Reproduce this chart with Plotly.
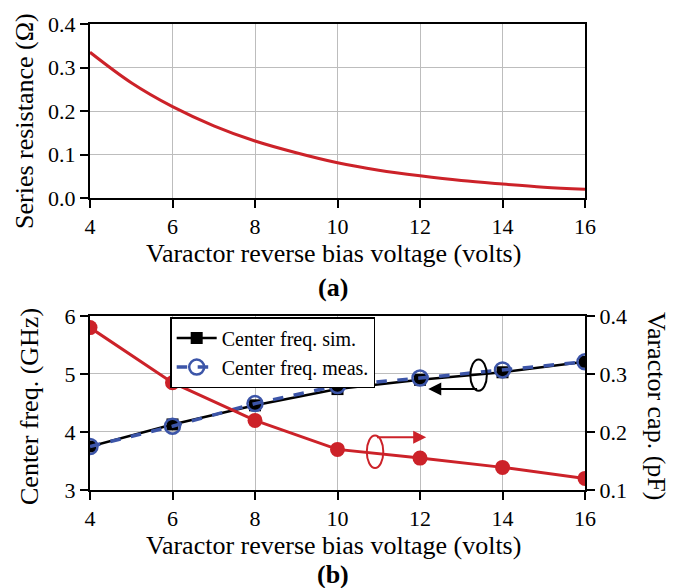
import plotly.graph_objects as go

# ---- data ----
volt_fine = [4, 5, 6, 7, 8, 9, 10, 11, 12, 13, 14, 15, 16]
series_res = [0.335, 0.265, 0.210, 0.166, 0.131, 0.104, 0.081, 0.064, 0.051, 0.040, 0.032, 0.025, 0.020]

volt = [4, 6, 8, 10, 12, 14, 16]
freq_sim = [3.75, 4.13, 4.46, 4.74, 4.90, 5.03, 5.21]
freq_meas = [3.75, 4.10, 4.49, 4.80, 4.93, 5.07, 5.21]
var_cap = [0.380, 0.285, 0.220, 0.170, 0.155, 0.139, 0.120]

FONT = "Liberation Serif"
RED = "#cc2229"
BLUE = "#3c55a8"
GRID = "#bdbdbd"
TICK_SIZE = 22
TITLE_SIZE = 26

fig = go.Figure()

fig.add_trace(go.Scatter(x=volt_fine, y=series_res, mode="lines", line=dict(color=RED, width=3, shape="spline"),
                         xaxis="x", yaxis="y", showlegend=False))

fig.add_trace(go.Scatter(x=volt, y=var_cap, mode="lines+markers", line=dict(color=RED, width=3),
                         marker=dict(color=RED, size=15), xaxis="x2", yaxis="y3", showlegend=False))
fig.add_trace(go.Scatter(x=volt, y=freq_sim, mode="lines+markers", name="Center freq. sim.",
                         line=dict(color="black", width=2.5),
                         marker=dict(symbol="square", color="black", size=12),
                         xaxis="x2", yaxis="y2"))
fig.add_trace(go.Scatter(x=volt, y=freq_meas, mode="lines+markers", name="Center freq. meas.",
                         line=dict(color=BLUE, width=3.5, dash="dash"),
                         marker=dict(symbol="circle-open", color=BLUE, size=15, line=dict(width=2.5)),
                         xaxis="x2", yaxis="y2"))

ax_common = dict(showline=True, linecolor="black", linewidth=2, mirror=True,
                 ticks="outside", ticklen=8, tickwidth=2, tickcolor="black",
                 showgrid=True, gridcolor=GRID, gridwidth=1.2, zeroline=False,
                 tickfont=dict(family=FONT, size=TICK_SIZE, color="black"))

fig.update_layout(
    width=673, height=588,
    margin=dict(l=90, r=88, t=24, b=98),
    paper_bgcolor="white", plot_bgcolor="white",
    font=dict(family=FONT, color="black"),
    xaxis=dict(domain=[0, 1], range=[4, 16], dtick=2, anchor="y", **ax_common),
    yaxis=dict(domain=[0.6266, 1.0], range=[0, 0.4], dtick=0.1, tickformat=".1f", anchor="x", **ax_common),
    xaxis2=dict(domain=[0, 1], range=[4, 16], dtick=2, anchor="y2", **ax_common),
    yaxis2=dict(domain=[0, 0.3734], range=[3, 6], dtick=1, anchor="x2",
                **{k: v for k, v in ax_common.items() if k != "mirror"}, mirror=False),
    yaxis3=dict(range=[0.1, 0.4], dtick=0.1, tickformat=".1f", overlaying="y2", side="right", anchor="x2",
                showline=True, linecolor="black", linewidth=2, ticks="outside", ticklen=8, tickwidth=2,
                tickcolor="black", showgrid=False, zeroline=False,
                tickfont=dict(family=FONT, size=TICK_SIZE, color="black")),
    legend=dict(x=0.162, y=0.371, xanchor="left", yanchor="top", bgcolor="white",
                bordercolor="black", borderwidth=1.5, font=dict(family=FONT, size=20, color="black"),
                tracegroupgap=0, itemwidth=40),
    showlegend=True,
)


def py(p):
    return (490 - p) / 466


def px(p):
    return (p - 90) / 495


ann = []
for t, yy in [("Varactor reverse bias voltage (volts)", 253), ("Varactor reverse bias voltage (volts)", 545)]:
    ann.append(dict(text=t, xref="paper", yref="paper", x=px(333), y=py(yy),
                    showarrow=False, font=dict(size=TITLE_SIZE, family=FONT), xanchor="center", yanchor="middle"))
for t, yy in [("<b>(a)</b>", 287), ("<b>(b)</b>", 574)]:
    ann.append(dict(text=t, xref="paper", yref="paper", x=px(333), y=py(yy),
                    showarrow=False, font=dict(size=TITLE_SIZE, family=FONT), xanchor="center", yanchor="middle"))
ann.append(dict(text="Series resistance (Ω)", xref="paper", yref="paper", x=px(24), y=py(121),
                showarrow=False, textangle=-90, font=dict(size=TITLE_SIZE, family=FONT), xanchor="center", yanchor="middle"))
ann.append(dict(text="Center freq. (GHz)", xref="paper", yref="paper", x=px(29), y=py(407),
                showarrow=False, textangle=-90, font=dict(size=TITLE_SIZE, family=FONT), xanchor="center", yanchor="middle"))
ann.append(dict(text="Varactor cap. (pF)", xref="paper", yref="paper", x=px(657), y=py(406),
                showarrow=False, textangle=90, font=dict(size=TITLE_SIZE, family=FONT), xanchor="center", yanchor="middle"))
# arrows
ann.append(dict(x=12.2, y=4.74, ax=13.42, ay=4.74, xref="x2", yref="y2", axref="x2", ayref="y2",
                showarrow=True, arrowhead=2, arrowsize=1.3, arrowwidth=2, arrowcolor="black", text=""))
ann.append(dict(x=12.15, y=3.91, ax=10.92, ay=3.91, xref="x2", yref="y2", axref="x2", ayref="y2",
                showarrow=True, arrowhead=2, arrowsize=1.3, arrowwidth=2, arrowcolor=RED, text=""))
fig.update_layout(annotations=ann)

fig.update_layout(shapes=[
    dict(type="circle", xref="x2", yref="y2", x0=13.42 - 0.2, x1=13.42 + 0.2, y0=4.98 - 0.27, y1=4.98 + 0.27,
         line=dict(color="black", width=2)),
    dict(type="circle", xref="x2", yref="y2", x0=10.91 - 0.2, x1=10.91 + 0.2, y0=3.66 - 0.28, y1=3.66 + 0.28,
         line=dict(color=RED, width=2)),
])

fig.write_html("out.html")
